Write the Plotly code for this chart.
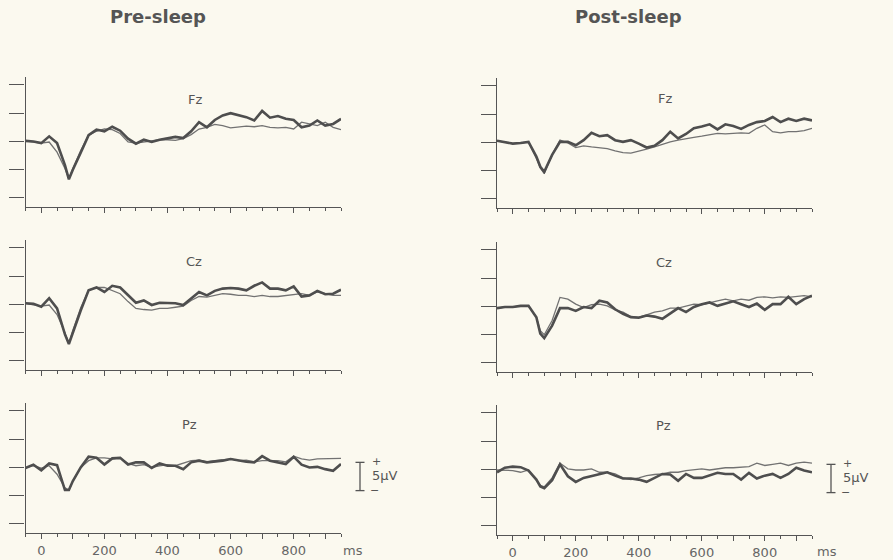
import plotly.graph_objects as go

W, H = 893, 560

# ---- data: grand-average ERP waveforms (µV), positive up ----
times_ms = [-50, -25, 0, 25, 50, 75, 87.5, 100] + list(range(125, 951, 25))

pre_fz_thick = [0.1, 0.0, -0.3, 0.9, -0.3, -4.2, -6.7, -5.0, -2.0, 1.1, 2.1, 1.8, 2.6, 1.9, 0.5, -0.4,
                0.3, -0.1, 0.3, 0.5, 0.8, 0.6, 1.8, 3.4, 2.5, 3.8, 4.6, 5.0, 4.6, 4.3, 3.7, 5.4,
                4.2, 4.5, 4.0, 3.8, 2.5, 2.8, 3.7, 2.8, 3.1, 4.0]
pre_fz_thin = [0.1, -0.1, -0.3, -0.1, -1.9, -4.8, -6.6, -4.8, -1.6, 1.1, 1.8, 2.2, 2.1, 1.4, -0.1, -0.3,
               -0.1, 0.2, 0.3, 0.3, 0.2, 0.5, 1.2, 2.2, 2.5, 3.0, 2.8, 2.4, 2.5, 2.7, 2.6, 2.8,
               2.5, 2.4, 2.5, 2.2, 3.4, 3.1, 2.8, 3.4, 2.5, 2.1]
post_fz_thick = [0.3, 0.1, -0.2, -0.1, 0.1, -2.5, -4.3, -5.2, -2.2, 0.1, 0.1, -0.5, 0.4, 1.7, 1.1, 1.3,
                 0.4, 0.1, 0.4, -0.2, -0.9, -0.6, 0.4, 1.9, 0.7, 1.5, 2.5, 2.8, 3.2, 2.3, 3.2, 2.9,
                 2.4, 3.1, 3.6, 3.8, 4.5, 3.6, 4.2, 3.8, 4.2, 3.9]
post_fz_thin = [0.3, 0.1, -0.2, -0.1, 0.1, -2.8, -4.5, -5.5, -2.2, 0.4, -0.1, -0.9, -0.6, -0.8, -0.9, -1.1,
                -1.5, -1.8, -1.9, -1.6, -1.2, -0.8, -0.3, 0.1, 0.4, 0.7, 0.9, 1.1, 1.3, 1.6, 1.5, 1.6,
                1.7, 1.6, 2.5, 3.1, 1.9, 1.7, 1.9, 1.9, 2.1, 2.5]

pre_cz_thick = [0.2, 0.1, -0.4, 1.1, -0.7, -5.3, -7.0, -5.0, -1.1, 2.5, 3.0, 2.2, 3.3, 3.0, 1.6, 0.3,
                0.7, -0.1, 0.3, 0.2, 0.2, -0.1, 1.0, 2.2, 1.6, 2.4, 2.8, 2.9, 2.8, 2.5, 3.3, 3.9,
                2.8, 2.8, 2.5, 3.2, 1.4, 1.6, 2.4, 1.8, 1.9, 2.6]
pre_cz_thin = [0.2, -0.1, -0.3, -0.1, -1.8, -5.0, -6.8, -4.6, -0.6, 2.5, 3.0, 3.0, 2.5, 1.9, 0.5, -0.7,
               -0.9, -1.0, -0.7, -0.7, -0.5, -0.3, 0.7, 1.4, 1.3, 1.6, 1.9, 1.8, 1.6, 1.6, 1.4, 1.6,
               1.4, 1.4, 1.6, 1.8, 1.9, 1.6, 2.2, 1.9, 1.6, 1.6]
post_cz_thick = [-0.3, -0.1, -0.1, 0.1, 0.1, -1.9, -4.8, -5.6, -3.4, -0.3, -0.3, -0.8, -0.1, -0.3, 1.0, 0.7,
                 -0.5, -1.3, -1.9, -2.0, -1.6, -1.8, -2.2, -1.3, -0.3, -1.0, -0.1, 0.4, 0.7, 0.1, 0.5, 0.9,
                 0.4, -0.1, 0.5, -0.6, 0.4, 0.4, 1.7, 0.4, 1.3, 1.9]
post_cz_thin = [-0.3, -0.1, -0.1, 0.1, 0.1, -1.9, -4.3, -5.0, -2.5, 1.6, 1.3, 0.4, -0.2, 0.3, 0.4, 0.1,
                -0.6, -1.0, -1.8, -1.9, -1.5, -1.0, -0.8, -0.3, -0.3, 0.1, 0.4, 0.3, 0.7, 1.0, 1.3, 1.0,
                1.3, 1.1, 1.6, 1.7, 1.5, 1.7, 1.6, 1.7, 1.9, 1.7]

pre_pz_thick = [-0.1, 0.5, -0.5, 0.7, 0.4, -4.0, -4.0, -2.4, 0.0, 1.9, 1.7, 0.5, 1.6, 1.7, 0.5, 0.9,
                0.9, -0.1, 0.7, 0.3, 0.3, -0.3, 0.9, 1.2, 0.9, 1.0, 1.2, 1.5, 1.2, 1.0, 0.9, 2.0,
                1.2, 0.9, 0.6, 1.9, 0.5, 0.0, 0.1, -0.3, -0.6, 0.6]
pre_pz_thin = [-0.1, 0.3, -0.1, 0.3, -1.2, -3.6, -4.0, -2.4, 0.0, 1.2, 1.7, 1.7, 1.5, 1.7, 0.7, 0.3,
               0.5, 0.0, 0.3, 0.5, 0.3, 0.7, 1.2, 1.3, 1.0, 1.2, 1.3, 1.5, 1.2, 1.3, 1.0, 1.2,
               1.2, 1.2, 1.0, 2.0, 1.5, 1.3, 1.5, 1.5, 1.5, 1.6]
post_pz_thick = [-0.5, 0.3, 0.5, 0.4, -0.2, -1.8, -3.0, -3.3, -1.9, 0.9, -1.2, -2.2, -1.5, -1.2, -0.8, -0.5,
                 -1.1, -1.6, -1.6, -1.8, -2.2, -1.5, -0.8, -0.9, -2.0, -0.8, -1.5, -1.5, -1.1, -0.6, -0.8, -0.8,
                 -1.8, -0.6, -1.6, -1.1, -0.8, -1.5, -0.8, 0.3, -0.2, -0.5]
post_pz_thin = [-0.1, -0.1, -0.2, -0.5, -0.1, -1.9, -2.8, -3.1, -1.5, 1.1, 0.1, -0.1, -0.1, 0.1, -0.5, -0.5,
                -0.8, -1.5, -1.8, -1.5, -1.1, -0.9, -0.8, -0.5, -0.5, -0.2, -0.1, 0.1, -0.1, 0.1, 0.3, 0.3,
                0.4, 0.5, 1.1, 0.7, 0.9, 1.1, 0.7, 1.1, 1.3, 1.1]

conditions = ["Pre-sleep", "Post-sleep"]
channels = ["Fz", "Cz", "Pz"]
x_tick_vals = [0, 100, 200, 300, 400, 500, 600, 700, 800, 900]
x_tick_text = ["0", "", "200", "", "400", "", "600", "", "800", ""]
y_tick_vals = [-10, -5, 0, 5, 10]
scale_bar_uv = 5

waves = {
    ("Pre-sleep", "Fz"): (pre_fz_thick, pre_fz_thin),
    ("Post-sleep", "Fz"): (post_fz_thick, post_fz_thin),
    ("Pre-sleep", "Cz"): (pre_cz_thick, pre_cz_thin),
    ("Post-sleep", "Cz"): (post_cz_thick, post_cz_thin),
    ("Pre-sleep", "Pz"): (pre_pz_thick, pre_pz_thin),
    ("Post-sleep", "Pz"): (post_pz_thick, post_pz_thin),
}

# ---- layout geometry (pixels) ----
INK = "#555555"
BG = "#fbf9ef"
col_px = [(25.5, 341.0), (497.0, 812.0)]
row_px = [[(77, 207), (240, 370), (403, 533)],
          [(78, 208), (242, 372), (405, 535)]]
title_px = [(158, 16), (628, 16)]
label_px = [[(195, 99), (194, 261), (189, 424)],
            [(665, 98), (664, 262), (663, 425)]]
ms_px = [(353, 550), (827, 551)]
bar_x = [360, 831]


def px(x):
    return x / W


def py(y):
    return 1 - y / H


def note(text, x, y, size, color=INK, family=None, xanchor="center", yref="paper", ypaper=True):
    f = dict(size=size, color=color)
    if family:
        f["family"] = family
    return dict(text=text, x=x, y=y, xref="paper", yref=yref, xanchor=xanchor, yanchor="middle",
                showarrow=False, font=f)


fig = go.Figure()
layout = dict(
    width=W, height=H, margin=dict(l=0, r=0, t=0, b=0),
    paper_bgcolor=BG, plot_bgcolor=BG, showlegend=False,
    font=dict(family="DejaVu Sans", color=INK),
)
annotations = []
shapes = []

n = 0
for r, ch in enumerate(channels):
    for c, cond in enumerate(conditions):
        n += 1
        sfx = "" if n == 1 else str(n)
        thick, thin = waves[(cond, ch)]
        fig.add_trace(go.Scatter(x=times_ms, y=thin, mode="lines", xaxis="x" + sfx, yaxis="y" + sfx,
                                 line=dict(color="#727272", width=1.3), hoverinfo="skip"))
        fig.add_trace(go.Scatter(x=times_ms, y=thick, mode="lines", xaxis="x" + sfx, yaxis="y" + sfx,
                                 line=dict(color="#4e4e4e", width=2.6), hoverinfo="skip"))
        x0, x1 = col_px[c]
        y0, y1 = row_px[c][r]
        bottom = r == len(channels) - 1
        layout["xaxis" + sfx] = dict(
            domain=[px(x0), px(x1)], range=[-50, 950], anchor="y" + sfx,
            showline=True, linecolor=INK, linewidth=1.3, showgrid=False, zeroline=False,
            ticks="outside", tickvals=x_tick_vals, ticktext=x_tick_text, ticklen=5,
            tickwidth=1.2, tickcolor=INK,
            minor=dict(ticks="outside", dtick=50, tick0=0, ticklen=3, tickwidth=1, tickcolor=INK),
            showticklabels=bottom, tickfont=dict(size=13, color="#666666"),
        )
        layout["yaxis" + sfx] = dict(
            domain=[py(y1), py(y0)], range=[-11.6, 11.4], anchor="x" + sfx,
            showline=True, linecolor=INK, linewidth=1.3, showgrid=False, zeroline=False,
            ticks="outside", tickvals=y_tick_vals, ticklen=15, tickwidth=1.2, tickcolor=INK,
            showticklabels=False,
        )
        lx, ly = label_px[c][r]
        annotations.append(note(ch, px(lx), py(ly), 13))

for c, cond in enumerate(conditions):
    tx, ty = title_px[c]
    annotations.append(note("<b>%s</b>" % cond, px(tx), py(ty), 18, family="DejaVu Sans"))
    mx, my = ms_px[c]
    annotations.append(note("ms", px(mx), py(my), 13, color="#666666"))

    # 5 µV calibration bar beside the Pz panel, drawn on that panel's y scale
    yref = "y5" if c == 0 else "y6"
    bx = bar_x[c]
    top, bot = 0.9, 0.9 - scale_bar_uv
    shapes.append(dict(type="line", xref="paper", yref=yref, x0=px(bx), x1=px(bx), y0=bot, y1=top,
                       line=dict(color=INK, width=1.3)))
    for yy in (top, bot):
        shapes.append(dict(type="line", xref="paper", yref=yref, x0=px(bx - 4.5), x1=px(bx + 4.5),
                           y0=yy, y1=yy, line=dict(color=INK, width=1.3)))
    annotations.append(note("+", px(bx + 16), top + 0.1, 11, yref=yref))
    annotations.append(note("\u2212", px(bx + 14), bot, 11, yref=yref))
    annotations.append(note("5µV", px(bx + 10), (top + bot) / 2 + 0.2, 13, xanchor="left", yref=yref))

layout["annotations"] = annotations
layout["shapes"] = shapes
fig.update_layout(**layout)
fig.write_html("out.html")
